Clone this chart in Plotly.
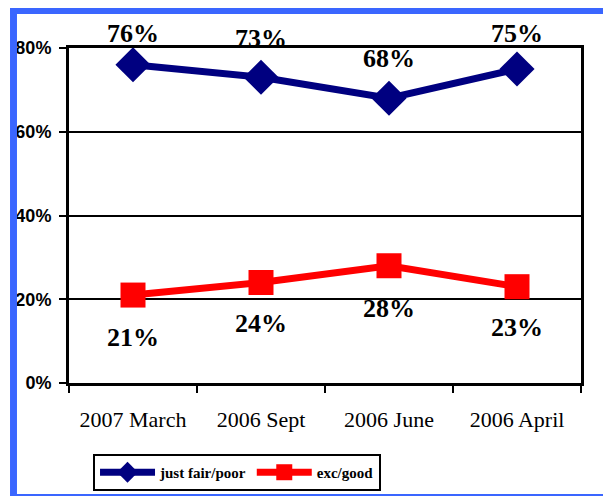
import plotly.graph_objects as go

categories = ["2007 March", "2006 Sept", "2006 June", "2006 April"]
fair_poor = [76, 73, 68, 75]
exc_good = [21, 24, 28, 23]
y_ticks = [0, 20, 40, 60, 80]
y_tick_labels = ["0%", "20%", "40%", "60%", "80%"]

# label offsets in pixels (placement only)
fair_poor_label_shift = [31, 39, 40, 35]
exc_good_label_shift = [-42, -41, -43, -41]

BLUE = "#000080"
RED = "#ff0000"
FRAME = "#3a66ff"

fig = go.Figure()
fig.add_trace(go.Scatter(
    x=categories, y=fair_poor, name="just fair/poor", mode="lines+markers",
    line=dict(color=BLUE, width=7), marker=dict(symbol="diamond", size=27, color=BLUE),
))
fig.add_trace(go.Scatter(
    x=categories, y=exc_good, name="exc/good", mode="lines+markers",
    line=dict(color=RED, width=7), marker=dict(symbol="square", size=25, color=RED),
))

label_font = dict(family="Liberation Serif", size=26, color="black", weight="bold")
for c, v, s in zip(categories, fair_poor, fair_poor_label_shift):
    fig.add_annotation(x=c, y=v, text=f"{v}%", showarrow=False, yshift=s, font=label_font)
for c, v, s in zip(categories, exc_good, exc_good_label_shift):
    fig.add_annotation(x=c, y=v, text=f"{v}%", showarrow=False, yshift=s, font=label_font)

# blue frame around the chart (left thick, top thick, bottom thin)
fig.add_shape(type="rect", xref="paper", yref="paper", x0=-0.1152, x1=-0.1016, y0=-0.337, y1=1.1224,
              fillcolor=FRAME, line_width=0, layer="above")
fig.add_shape(type="rect", xref="paper", yref="paper", x0=-0.1152, x1=1.2, y0=1.1015, y1=1.1224,
              fillcolor=FRAME, line_width=0, layer="above")
fig.add_shape(type="rect", xref="paper", yref="paper", x0=-0.1152, x1=1.2, y0=-0.337, y1=-0.331,
              fillcolor=FRAME, line_width=0, layer="above")

fig.update_layout(
    width=603, height=488,
    margin=dict(l=61, r=30, t=40, b=113),
    paper_bgcolor="white", plot_bgcolor="white",
    showlegend=True,
    legend=dict(
        orientation="h", xref="container", yref="container",
        x=0.141, y=0.0861, xanchor="left", yanchor="top",
        bordercolor="black", borderwidth=2, bgcolor="white",
        font=dict(family="Liberation Serif", size=15, color="black", weight="bold"),
        itemwidth=55, tracegroupgap=0,
    ),
    xaxis=dict(
        type="category", showgrid=False, showline=True, linecolor="black", linewidth=3,
        mirror=True, ticks="outside", tickson="boundaries", ticklen=7, tickwidth=2, tickcolor="black",
        tickfont=dict(family="Liberation Serif", size=22, color="black"),
        ticklabelstandoff=15, automargin=False,
        range=[-0.5, 3.5],
    ),
    yaxis=dict(
        range=[0, 80], tickvals=y_ticks, ticktext=y_tick_labels,
        showgrid=True, gridcolor="black", gridwidth=1.5,
        showline=True, linecolor="black", linewidth=3, mirror=True,
        ticks="outside", ticklen=7, tickwidth=2, tickcolor="black",
        tickfont=dict(family="Liberation Sans", size=18, color="black", weight="bold"),
        ticklabelstandoff=4, automargin=False,
        zeroline=False,
    ),
)

fig.write_html("out.html")
